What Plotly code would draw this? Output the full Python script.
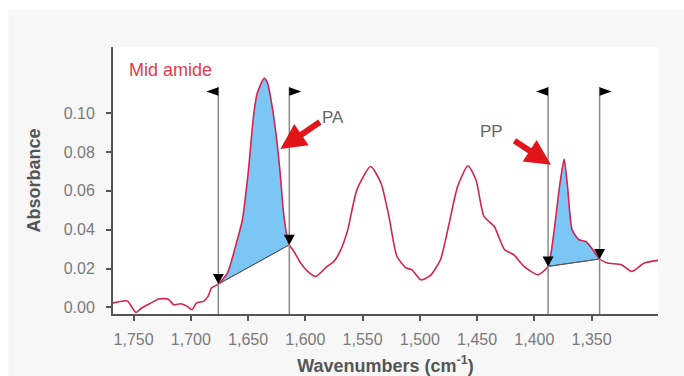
import numpy as np
import plotly.graph_objects as go

# ---- data ----
wavenumbers = [1768, 1757, 1755, 1748, 1743, 1736, 1728, 1720, 1715, 1709,
               1703, 1699, 1695, 1689, 1685, 1682, 1676, 1668, 1661, 1655,
               1650, 1645, 1642, 1636, 1633, 1629, 1625, 1622, 1619, 1616,
               1614, 1610, 1604, 1598, 1591, 1587, 1581, 1575, 1569, 1563,
               1555, 1543, 1534, 1527, 1520, 1512, 1507, 1499, 1491, 1482,
               1475, 1467, 1458, 1451, 1444, 1435, 1426, 1418, 1409, 1397,
               1388, 1383, 1378, 1374, 1371, 1367, 1361, 1355, 1349, 1343,
               1336, 1324, 1315, 1304, 1292]
absorbance = [0.0023, 0.0034, 0.0031, -0.0026, -0.0003, 0.0019, 0.0043, 0.0043, 0.0014, 0.0019,
              0.0005, -0.0012, 0.0023, 0.0031, 0.0057, 0.0100, 0.0120, 0.0177, 0.0314, 0.0451,
              0.0690, 0.0999, 0.1102, 0.1179, 0.1154, 0.1033, 0.0862, 0.0691, 0.0485, 0.0365,
              0.0322, 0.0288, 0.0228, 0.0185, 0.0159, 0.0177, 0.0211, 0.0237, 0.0297, 0.0399,
              0.0605, 0.0725, 0.0640, 0.0468, 0.0262, 0.0203, 0.0194, 0.0142, 0.0163, 0.0245,
              0.0416, 0.0622, 0.0729, 0.0657, 0.0468, 0.0416, 0.0297, 0.0271, 0.0211, 0.0168,
              0.0211, 0.0383, 0.0622, 0.0763, 0.0622, 0.0399, 0.0348, 0.0339, 0.0297, 0.0249,
              0.0228, 0.0220, 0.0185, 0.0228, 0.0242]

band_names = ["PA", "PP"]
band_left = [1676, 1388]
band_right = [1614, 1343]

x_ticks = [1750, 1700, 1650, 1600, 1550, 1500, 1450, 1400, 1350]
y_ticks = [0.00, 0.02, 0.04, 0.06, 0.08, 0.10]

# ---- styling ----
CURVE = "#d42352"
FILL = "#7cc6f6"
RED = "#e3151c"
AXIS = "#555555"
TICKTXT = "#7a7a7a"
FONT = "Liberation Sans, Arial, sans-serif"
SMOOTH = 0.6

wn = np.array(wavenumbers, dtype=float)
ab = np.array(absorbance, dtype=float)
order = np.argsort(wn)


def curve_at(x):
    return float(np.interp(x, wn[order], ab[order]))


fig = go.Figure()

# integrated band fills: baseline trace, then curve segment filled to it
for lo, hi in zip(band_left, band_right):
    inside = (wn < lo) & (wn > hi)
    xs = [lo] + list(wn[inside]) + [hi]
    ys = [curve_at(lo)] + list(ab[inside]) + [curve_at(hi)]
    fig.add_trace(go.Scatter(x=[lo, hi], y=[curve_at(lo), curve_at(hi)],
                             mode="lines", line=dict(color="#5a5a5a", width=1),
                             hoverinfo="skip", showlegend=False))
    fig.add_trace(go.Scatter(x=xs, y=ys, mode="lines", fill="tonexty",
                             fillcolor=FILL,
                             line=dict(width=0, shape="spline", smoothing=SMOOTH),
                             hoverinfo="skip", showlegend=False))
    fig.add_trace(go.Scatter(x=[lo, hi], y=[curve_at(lo), curve_at(hi)],
                             mode="lines", line=dict(color="#5a5a5a", width=1),
                             hoverinfo="skip", showlegend=False))

# spectrum
fig.add_trace(go.Scatter(x=wavenumbers, y=absorbance, mode="lines",
                         line=dict(color=CURVE, width=1.6, shape="spline",
                                   smoothing=SMOOTH),
                         showlegend=False))

shapes = []
LINE_TOP = 0.851
for lo, hi in zip(band_left, band_right):
    for xv in (lo, hi):
        shapes.append(dict(type="line", xref="x", yref="paper", x0=xv, x1=xv,
                           y0=0, y1=LINE_TOP, line=dict(color="#8a8a8a", width=1.5)))
        shapes.append(dict(type="path", xref="x", yref="y", xsizemode="pixel",
                           ysizemode="pixel", xanchor=xv, yanchor=curve_at(xv),
                           path="M0,0 L-5.5,10 L5.5,10 Z",
                           fillcolor="black", line=dict(width=0)))
    shapes.append(dict(type="path", xref="x", yref="paper", xsizemode="pixel",
                       ysizemode="pixel", xanchor=lo, yanchor=LINE_TOP,
                       path="M0,-0.5 L0,-9 L-12,-4.75 Z",
                       fillcolor="black", line=dict(width=0)))
    shapes.append(dict(type="path", xref="x", yref="paper", xsizemode="pixel",
                       ysizemode="pixel", xanchor=hi, yanchor=LINE_TOP,
                       path="M0,-0.5 L0,-9 L12,-4.75 Z",
                       fillcolor="black", line=dict(width=0)))

# white strips outside the grey panel
shapes.append(dict(type="rect", xref="paper", yref="paper", x0=-0.4, x1=1.2,
                   y0=1.1386, y1=1.3, fillcolor="white", line=dict(width=0), layer="below"))
shapes.append(dict(type="rect", xref="paper", yref="paper", x0=-0.4, x1=-0.192,
                   y0=-0.4, y1=1.3, fillcolor="white", line=dict(width=0), layer="below"))

annotations = [
    dict(text="Mid amide", xref="paper", yref="paper", x=0.026, y=0.914,
         xanchor="left", yanchor="middle", showarrow=False,
         font=dict(family=FONT, size=18, color="#e8394a")),
    dict(text="PA", x=1575.5, y=0.0975, xanchor="center", yanchor="middle",
         showarrow=False, font=dict(family=FONT, size=17, color="#666666")),
    dict(text="PP", x=1437, y=0.0905, xanchor="center", yanchor="middle",
         showarrow=False, font=dict(family=FONT, size=17, color="#666666")),
    dict(text="", x=1621.8, y=0.0815, ax=41, ay=-28, showarrow=True,
         arrowhead=2, arrowsize=0.85, arrowwidth=6, arrowcolor=RED),
    dict(text="", x=1385.5, y=0.0734, ax=-38, ay=-25, showarrow=True,
         arrowhead=2, arrowsize=0.85, arrowwidth=6, arrowcolor=RED),
]

fig.update_layout(
    width=684, height=376,
    margin=dict(l=113, r=26, t=47, b=62, autoexpand=False),
    paper_bgcolor="#f7f7f7", plot_bgcolor="white",
    font=dict(family=FONT),
    shapes=shapes, annotations=annotations,
    xaxis=dict(range=[1768, 1292], tickvals=x_ticks, tickformat=",d",
               automargin=False,
               showgrid=False, zeroline=False, showline=True, linecolor=AXIS,
               linewidth=2, ticks="outside", ticklen=5, tickcolor=AXIS, tickwidth=1.5,
               ticklabelstandoff=5,
               tickfont=dict(family=FONT, size=16, color=TICKTXT),
               title=dict(text="Wavenumbers (cm<sup>-1</sup>)", standoff=13,
                          font=dict(family=FONT, size=18, color=AXIS, weight="bold"))),
    yaxis=dict(range=[-0.0034, 0.134], tickvals=y_ticks, tickformat=".2f",
               automargin=False,
               showgrid=False, zeroline=False, showline=True, linecolor=AXIS,
               linewidth=2, ticks="outside", ticklen=5, tickcolor=AXIS, tickwidth=1.5,
               ticklabelstandoff=8,
               tickfont=dict(family=FONT, size=16, color=TICKTXT),
               title=dict(text="Absorbance", standoff=18,
                          font=dict(family=FONT, size=18, color=AXIS, weight="bold"))),
)

fig.write_html("out.html")
